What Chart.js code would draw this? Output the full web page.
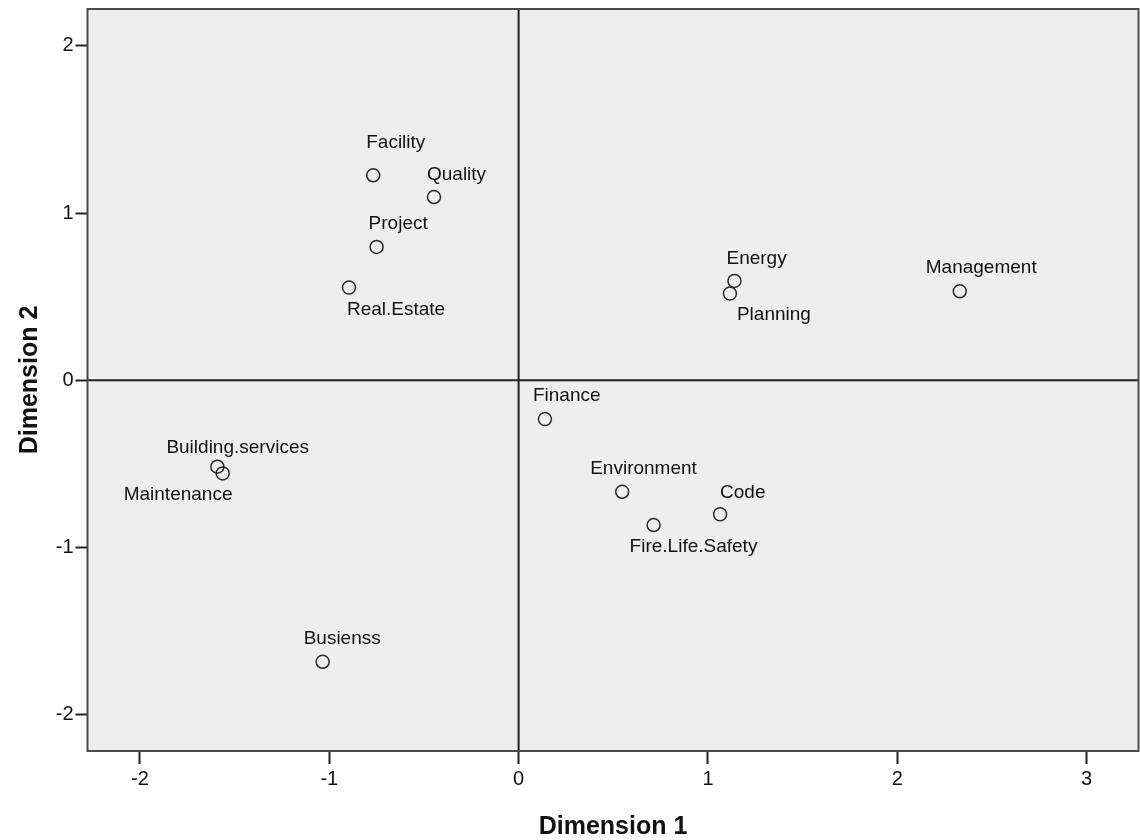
<!DOCTYPE html>
<html>
<head>
<meta charset="utf-8">
<script src="https://cdn.jsdelivr.net/npm/chart.js@4/dist/chart.umd.min.js"></script>
<style>
  html, body { margin: 0; padding: 0; background: #ffffff; }
  #wrap { width: 1140px; height: 840px; }
</style>
</head>
<body>
<div id="wrap"><canvas id="c" width="1140" height="840"></canvas></div>
<script>
// Object points of the two-dimensional solution
const names = ['Facility', 'Quality', 'Project', 'Real.Estate', 'Energy', 'Planning', 'Management',
               'Finance', 'Environment', 'Code', 'Fire.Life.Safety', 'Building.services', 'Maintenance', 'Busienss'];
const dim1 = [-0.768, -0.447, -0.750, -0.896, 1.140, 1.116, 2.330,
              0.139, 0.547, 1.064, 0.713, -1.591, -1.563, -1.035];
const dim2 = [1.226, 1.096, 0.797, 0.554, 0.594, 0.518, 0.532,
              -0.233, -0.668, -0.803, -0.867, -0.518, -0.558, -1.685];
const xTicks = [-2, -1, 0, 1, 2, 3];
const yTicks = [-2, -1, 0, 1, 2];
const xTitle = 'Dimension 1';
const yTitle = 'Dimension 2';

// Label placement relative to each marker, in pixels (left edge, vertical centre)
const labelOffsets = [
  [-7, -33], [-7, -22], [-8, -23], [-2, 22], [-8, -22], [7, 21], [-34, -23],
  [-12, -23], [-32, -23], [0, -22], [-24, 22], [-51, -19], [-99, 21], [-19, -23]
];

const FONT = '"Liberation Sans", Arial, Helvetica, sans-serif';

const plotFrame = {
  id: 'plotFrame',
  beforeDatasetsDraw(chart) {
    const { ctx, chartArea: a, scales } = chart;
    ctx.save();
    ctx.fillStyle = '#eeeeee';
    ctx.fillRect(a.left, a.top, a.right - a.left, a.bottom - a.top);
    // reference lines through the origin
    const x0 = scales.x.getPixelForValue(0);
    const y0 = scales.y.getPixelForValue(0);
    ctx.strokeStyle = '#222222';
    ctx.lineWidth = 2;
    ctx.beginPath();
    ctx.moveTo(x0, a.top); ctx.lineTo(x0, a.bottom);
    ctx.moveTo(a.left, y0); ctx.lineTo(a.right, y0);
    ctx.stroke();
    ctx.restore();
  },
  afterDatasetsDraw(chart) {
    const { ctx, chartArea: a, scales } = chart;
    ctx.save();
    // point labels
    ctx.font = '19px ' + FONT;
    ctx.fillStyle = '#111111';
    ctx.textAlign = 'left';
    ctx.textBaseline = 'middle';
    names.forEach((n, i) => {
      const px = scales.x.getPixelForValue(dim1[i]);
      const py = scales.y.getPixelForValue(dim2[i]);
      ctx.fillText(n, px + labelOffsets[i][0], py + labelOffsets[i][1]);
    });
    // frame
    ctx.strokeStyle = '#4a4a4a';
    ctx.lineWidth = 2;
    ctx.strokeRect(a.left, a.top, a.right - a.left, a.bottom - a.top);
    ctx.restore();
  }
};

new Chart(document.getElementById('c'), {
  type: 'scatter',
  data: {
    datasets: [{
      data: dim1.map((v, i) => ({ x: v, y: dim2[i] })),
      pointStyle: 'circle',
      pointRadius: 6.5,
      pointBorderWidth: 1.5,
      pointBorderColor: '#2a2a2a',
      pointBackgroundColor: 'rgba(0,0,0,0)',
      showLine: false
    }]
  },
  options: {
    responsive: false,
    animation: false,
    layout: { autoPadding: false, padding: { top: 9, right: 1.5, left: 0, bottom: 0 } },
    plugins: { legend: { display: false }, tooltip: { enabled: false } },
    scales: {
      x: {
        type: 'linear',
        min: -2.277,
        max: 3.274,
        afterBuildTicks: s => { s.ticks = xTicks.map(v => ({ value: v })); },
        afterFit: s => { s.height = 89; s.paddingLeft = 0; s.paddingRight = 0; },
        grid: { drawOnChartArea: false, drawTicks: true, tickLength: 13, tickColor: '#222222', tickWidth: 2 },
        border: { display: false },
        ticks: { color: '#111111', font: { family: FONT, size: 20 }, padding: 3, maxRotation: 0, autoSkip: false },
        title: { display: true, text: xTitle, color: '#111111', font: { family: FONT, size: 25, weight: 'bold', lineHeight: 1.05 }, padding: { top: 0, bottom: 0 } }
      },
      y: {
        type: 'linear',
        min: -2.219,
        max: 2.221,
        afterBuildTicks: s => { s.ticks = yTicks.map(v => ({ value: v })); },
        afterFit: s => { s.width = 87.5; s.paddingTop = 0; s.paddingBottom = 0; },
        grid: { drawOnChartArea: false, drawTicks: true, tickLength: 12, tickColor: '#222222', tickWidth: 2 },
        border: { display: false },
        ticks: { color: '#111111', font: { family: FONT, size: 20 }, padding: 2, autoSkip: false },
        title: { display: true, text: yTitle, color: '#111111', font: { family: FONT, size: 25, weight: 'bold', lineHeight: 1.2 }, padding: { top: 15, bottom: 0 } }
      }
    }
  },
  plugins: [plotFrame]
});
</script>
</body>
</html>
